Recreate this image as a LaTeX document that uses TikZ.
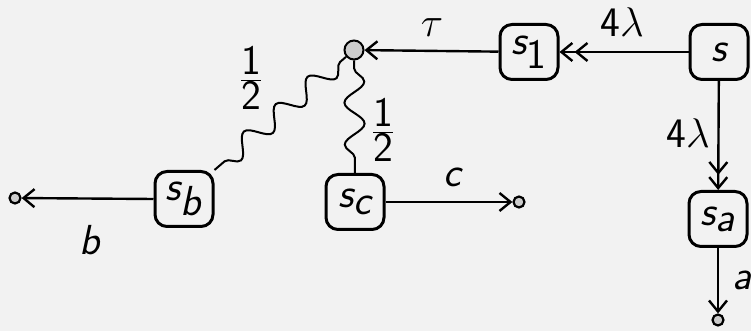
\documentclass[tikz,border=0pt]{standalone}
\usetikzlibrary{arrows.meta,decorations.pathmorphing}
\definecolor{bg}{HTML}{F2F2F2}
\definecolor{dotgray}{HTML}{CCCCCC}
\newcommand\sv[1]{\textsf{\slshape #1}}
\newcommand\sd[1]{\textsf{#1}}
\begin{document}
\begin{tikzpicture}[x=0.5pt,y=-0.5pt,
  every node/.style={font=\fontsize{21}{24}\selectfont},
  state/.style={draw,line width=1.5pt,rounded corners=6pt,minimum width=29pt,minimum height=27.5pt,inner sep=0pt},
  junc/.style={circle,draw,line width=1pt,fill=dotgray,minimum size=9.5pt,inner sep=0pt},
  endpt/.style={circle,draw,line width=1.1pt,fill=dotgray,minimum size=5.5pt,inner sep=0pt},
  tr/.style={line width=1.2pt,-{Straight Barb[length=5.5pt,width=9pt]}},
  dtr/.style={line width=1.2pt,-{Straight Barb[length=5.5pt,width=9pt,sep=0.5pt]Straight Barb[length=5.5pt,width=9pt]}},
  wav/.style={line width=1pt,decorate,decoration={snake,segment length=21pt,amplitude=5pt,pre length=4pt,post length=4pt}},
  lbl/.style={inner sep=1pt}]
\fill[bg] (0,0) rectangle (751,331);
\useasboundingbox (0,0) rectangle (751,331);
\node[junc] (j) at (354,50) {};
\node[state] (s1) at (529,52) {$\sv{s}_{\sd{1}}$};
\node[state] (s) at (719,52) {$\sv{s}$};
\node[state] (sa) at (718,219) {$\sv{s}_{\sv{a}}$};
\node[state] (sb) at (184,199) {$\sv{s}_{\sv{b}}$};
\node[state] (sc) at (355,202) {$\sv{s}_{\sv{c}}$};
\node[endpt] (ea) at (718,320) {};
\node[endpt] (eb) at (15,198) {};
\node[endpt] (ec) at (519,202) {};
\draw[dtr] (s) -- (s1);
\draw[dtr] (s) -- (sa);
\draw[tr] (s1) -- (j);
\draw[tr] (sa) -- (ea);
\draw[tr] (sb.west) -- (eb);
\draw[tr] (sc.east) -- (ec);
\draw[wav] (j) -- (sb.north east);
\draw[wav] (j) -- (sc.north);
\node[lbl] (ltau) at (432,28) {$\tau$};
\node[lbl] (l4a) at (622,22) {$\sd{4}\lambda$};
\node[lbl] (l4b) at (688,133) {$\sd{4}\lambda$};
\node[lbl] (la) at (742,280) {$\sv{a}$};
\node[lbl] (lb) at (90,240) {$\sv{b}$};
\node[lbl] (lc) at (452,177) {$\sv{c}$};
\node[lbl] (lh1) at (251,78) {$\frac{\sd{1}}{\sd{2}}$};
\node[lbl] (lh2) at (383,130) {$\frac{\sd{1}}{\sd{2}}$};
\end{tikzpicture}
\end{document}
